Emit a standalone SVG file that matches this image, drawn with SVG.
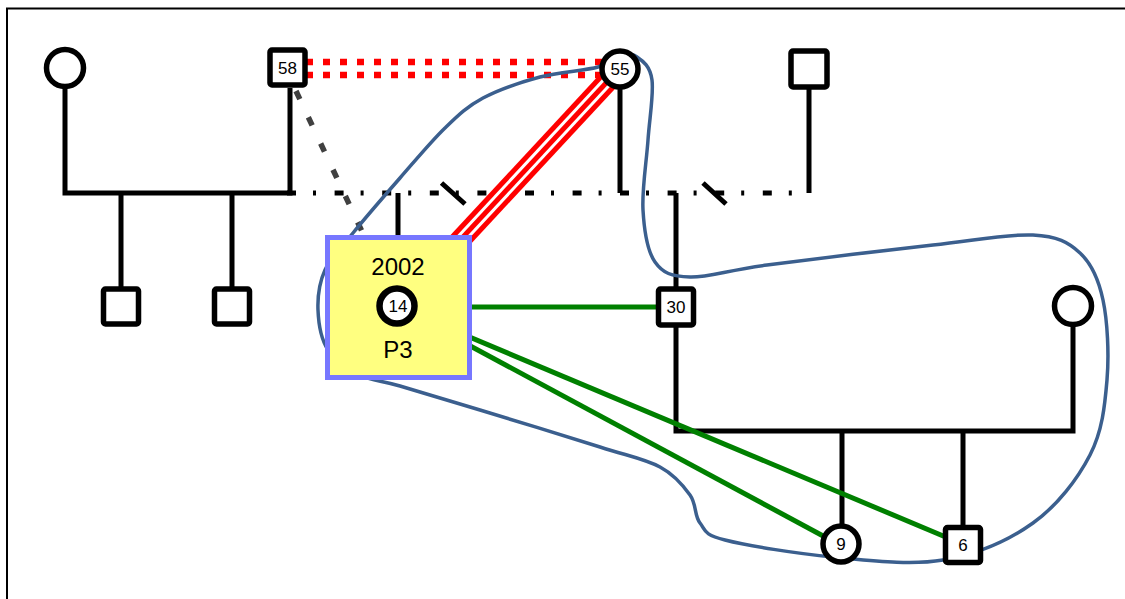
<svg xmlns="http://www.w3.org/2000/svg" width="1125" height="599" viewBox="0 0 1125 599">
<style>
.ln{stroke:#000;stroke-width:5;fill:none;stroke-linecap:butt}
.m{fill:#fff;stroke:#000;stroke-width:5.5}
.lbl{font-family:"Liberation Sans",Arial,sans-serif;font-size:17px;text-anchor:middle;fill:#000}
.big{font-family:"Liberation Sans",Arial,sans-serif;font-size:24px;text-anchor:middle;fill:#000}
.g{stroke:#008000;stroke-width:5;fill:none}
</style>
<rect width="1125" height="599" fill="#fff"/>
<path d="M7 599 V8.5 H1125" fill="none" stroke="#000" stroke-width="2"/>
<g id="connectors">
  <path class="ln" d="M65 88 V193 H290 V88"/>
  <path class="ln" d="M121 193 V290 M232 193 V290"/>
  <path class="ln" d="M287 193 H620" stroke-dasharray="9 17 3 18.6"/>
  <path class="ln" d="M620 193 H810" stroke-dasharray="9 17 3 18.6"/>
  <path class="ln" d="M620 88 V193 M809 88 V193"/>
  <path class="ln" d="M441.5 183 L465 204 M703 183 L726 204"/>
  <path class="ln" d="M398 193 V240"/>
  <path class="ln" d="M676 193 V290 M676 325 V431 H1073 V325"/>
  <path class="ln" d="M842 431 V526 M963 431 V527"/>
  <line x1="306" y1="62" x2="602" y2="62" stroke="#ff0000" stroke-width="6.5" stroke-dasharray="7 10"/>
  <line x1="306" y1="75" x2="602" y2="75" stroke="#ff0000" stroke-width="6.5" stroke-dasharray="7 10"/>
  <line x1="296" y1="91" x2="366" y2="240" stroke="#404040" stroke-width="5.5" stroke-dasharray="9 20"/>
  <g>
    <line x1="620" y1="68" x2="398" y2="307" stroke="#ff0000" stroke-width="21"/>
    <line x1="622.9" y1="70.7" x2="400.9" y2="309.7" stroke="#fff" stroke-width="3"/>
    <line x1="617.1" y1="65.3" x2="395.1" y2="304.3" stroke="#fff" stroke-width="3"/>
  </g>
  <line class="g" x1="398" y1="307" x2="660" y2="307"/>
  <line class="g" x1="398" y1="307" x2="825" y2="537"/>
  <line class="g" x1="398" y1="307" x2="948" y2="538"/>
  <path fill="none" stroke="#3B5F8E" stroke-width="3.5" d="M598 67 C585.5 70.67,559.17 71.83,540 77 C520.83 82.17,498.83 89.5,483 98 C467.17 106.5,458.83 114.67,445 128 C431.17 141.33,415.33 160.5,400 178 C384.67 195.5,365.5 217.67,353 233 C340.5 248.33,330.83 257.17,325 270 C319.17 282.83,317.5 296.67,318 310 C318.5 323.33,321 339.17,328 350 C335 360.83,348 369,360 375 C372 381,380 380.17,400 386 C420 391.83,446.67 399.83,480 410 C513.33 420.17,570 437.5,600 447 C630 456.5,645 459,660 467 C675 475,683.33 485.67,690 495 C696.67 504.33,694.17 515.5,700 523 C705.83 530.5,702.83 534.33,725 540 C747.17 545.67,796.67 553.67,833 557 C869.33 560.33,909.67 565.67,943 560 C976.33 554.33,1008.5 540.5,1033 523 C1057.5 505.5,1077.67 478.83,1090 455 C1102.33 431.17,1104.83 405.83,1107 380 C1109.17 354.17,1107.5 321.17,1103 300 C1098.5 278.83,1091.67 263.83,1080 253 C1068.33 242.17,1057.5 236.33,1033 235 C1008.5 233.67,977.33 240,933 245 C888.67 250,807.5 259.67,767 265 C726.5 270.33,708.67 277.5,690 277 C671.33 276.5,662.83 273.17,655 262 C647.17 250.83,644.17 230.33,643 210 C641.83 189.67,646.5 161.67,648 140 C649.5 118.33,653.83 93.83,652 80 C650.17 66.17,643.17 61.17,637 57 C630.83 52.83,621.5 53.330,615 55 C608.5 56.67,604.5 65.33,598 67 Z"/>
</g>
<g id="n_f1"><circle class="m" cx="65" cy="68" r="18.5"/></g>
<g id="n_58"><rect class="m" x="270" y="50" width="35" height="35" rx="2"/><text class="lbl" x="287.5" y="74">58</text></g>
<g id="n_55"><circle class="m" cx="620" cy="69" r="18"/><text class="lbl" x="620" y="75">55</text></g>
<g id="n_m1"><rect class="m" x="791" y="51" width="36" height="36" rx="2"/></g>
<g id="n_c1"><rect class="m" x="103.5" y="289" width="35" height="35" rx="2"/></g>
<g id="n_c2"><rect class="m" x="214.5" y="289" width="35" height="35" rx="2"/></g>
<g id="n_p3">
  <rect x="327.5" y="237.5" width="142" height="140" fill="#ffff80" stroke="#7777ff" stroke-width="5"/>
  <text class="big" x="398" y="275">2002</text>
  <circle cx="397" cy="306" r="17.5" fill="#fff" stroke="#000" stroke-width="6.5"/>
  <text class="lbl" x="398" y="312">14</text>
  <text class="big" x="398" y="358">P3</text>
</g>
<g id="n_30"><rect class="m" x="658.5" y="289" width="35" height="36" rx="2"/><text class="lbl" x="676" y="313">30</text></g>
<g id="n_f2"><circle class="m" cx="1073" cy="306" r="18.5"/></g>
<g id="n_9"><circle class="m" cx="841" cy="544" r="18"/><text class="lbl" x="841" y="550">9</text></g>
<g id="n_6"><rect class="m" x="945.5" y="527.5" width="35" height="35" rx="2"/><text class="lbl" x="963" y="551">6</text></g>
</svg>
